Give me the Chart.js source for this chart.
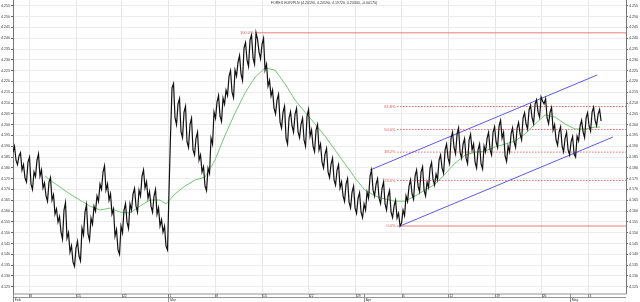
<!DOCTYPE html>
<html>
<head>
<meta charset="utf-8">
<script src="https://cdn.jsdelivr.net/npm/chart.js@4.4.1/dist/chart.umd.min.js"></script>
<style>
  body { margin: 0; background: #fff; }
  #wrap { width: 640px; height: 302px; }
</style>
</head>
<body>
<div id="wrap"><canvas id="chart" width="640" height="302"></canvas></div>
<script>
// chart data
const chartTitle = 'FOREX EUR/PLN (4.20190, 4.20590, 4.19720, 4.20340, -0.00170)';

// prices, two readings per bar (bar = i / 2)
const closes = [
  4.1873, 4.1900, 4.1836, 4.1815, 4.1855, 4.1870, 4.1790, 4.1815, 4.1753, 4.1735,
  4.1827, 4.1850, 4.1725, 4.1700, 4.1781, 4.1760, 4.1836, 4.1865, 4.1762, 4.1790,
  4.1707, 4.1730, 4.1670, 4.1645, 4.1734, 4.1755, 4.1651, 4.1675, 4.1586, 4.1610,
  4.1549, 4.1575, 4.1503, 4.1470, 4.1605, 4.1640, 4.1475, 4.1500, 4.1410, 4.1440,
  4.1364, 4.1345, 4.1429, 4.1460, 4.1392, 4.1370, 4.1521, 4.1490, 4.1595, 4.1630,
  4.1494, 4.1465, 4.1568, 4.1540, 4.1623, 4.1600, 4.1670, 4.1645, 4.1725, 4.1700,
  4.1781, 4.1810, 4.1697, 4.1725, 4.1651, 4.1680, 4.1586, 4.1610, 4.1484, 4.1515,
  4.1420, 4.1400, 4.1531, 4.1500, 4.1605, 4.1635, 4.1549, 4.1520, 4.1633, 4.1605,
  4.1679, 4.1705, 4.1623, 4.1595, 4.1697, 4.1670, 4.1762, 4.1790, 4.1707, 4.1735,
  4.1660, 4.1690, 4.1623, 4.1595, 4.1670, 4.1700, 4.1586, 4.1615, 4.1531, 4.1560,
  4.1503, 4.1530, 4.1438, 4.1420, 4.1697, 4.1950, 4.2170, 4.2190, 4.2031, 4.2000,
  4.2096, 4.2120, 4.1966, 4.1940, 4.2058, 4.2085, 4.1920, 4.1895, 4.2003, 4.2030,
  4.1883, 4.1860, 4.1938, 4.1965, 4.1836, 4.1860, 4.1781, 4.1805, 4.1716, 4.1695,
  4.1799, 4.1775, 4.1938, 4.1910, 4.2058, 4.2030, 4.2105, 4.2135, 4.2040, 4.2015,
  4.2123, 4.2095, 4.2160, 4.2135, 4.2225, 4.2250, 4.2151, 4.2125, 4.2253, 4.2225,
  4.2290, 4.2320, 4.2234, 4.2205, 4.2355, 4.2380, 4.2299, 4.2270, 4.2392, 4.2415,
  4.2308, 4.2280, 4.2425, 4.2395, 4.2336, 4.2305, 4.2373, 4.2400, 4.2253, 4.2280,
  4.2179, 4.2205, 4.2133, 4.2160, 4.2077, 4.2050, 4.2114, 4.2140, 4.2012, 4.1985,
  4.2058, 4.2085, 4.1938, 4.1910, 4.2031, 4.2060, 4.1994, 4.1965, 4.2049, 4.2075,
  4.1966, 4.1940, 4.2003, 4.2030, 4.1929, 4.1900, 4.2040, 4.2070, 4.1947, 4.1975,
  4.1901, 4.1875, 4.1975, 4.2000, 4.1883, 4.1910, 4.1827, 4.1800, 4.1864, 4.1890,
  4.1781, 4.1755, 4.1818, 4.1845, 4.1744, 4.1720, 4.1790, 4.1815, 4.1707, 4.1735,
  4.1670, 4.1645, 4.1725, 4.1750, 4.1642, 4.1615, 4.1688, 4.1715, 4.1614, 4.1590,
  4.1660, 4.1685, 4.1595, 4.1570, 4.1633, 4.1605, 4.1688, 4.1660, 4.1762, 4.1790,
  4.1697, 4.1670, 4.1725, 4.1750, 4.1660, 4.1635, 4.1707, 4.1735, 4.1633, 4.1605,
  4.1670, 4.1695, 4.1595, 4.1570, 4.1623, 4.1650, 4.1568, 4.1590, 4.1531, 4.1545,
  4.1605, 4.1580, 4.1670, 4.1645, 4.1716, 4.1745, 4.1679, 4.1655, 4.1762, 4.1790,
  4.1716, 4.1690, 4.1781, 4.1805, 4.1697, 4.1670, 4.1734, 4.1710, 4.1799, 4.1825,
  4.1744, 4.1720, 4.1771, 4.1745, 4.1836, 4.1860, 4.1799, 4.1775, 4.1883, 4.1910,
  4.1845, 4.1820, 4.1938, 4.1965, 4.1892, 4.1865, 4.1957, 4.1985, 4.1873, 4.1845,
  4.1910, 4.1935, 4.1845, 4.1820, 4.1929, 4.1955, 4.1883, 4.1910, 4.1827, 4.1800,
  4.1883, 4.1910, 4.1818, 4.1795, 4.1901, 4.1875, 4.1938, 4.1965, 4.1883, 4.1860,
  4.1966, 4.1990, 4.1920, 4.1895, 4.1994, 4.2020, 4.1938, 4.1965, 4.1855, 4.1830,
  4.1901, 4.1875, 4.1957, 4.1985, 4.1920, 4.1895, 4.1984, 4.2010, 4.1957, 4.1930,
  4.2031, 4.2055, 4.2003, 4.1980, 4.2068, 4.2090, 4.2031, 4.2005, 4.2096, 4.2115,
  4.2058, 4.2035, 4.2128, 4.2110, 4.2096, 4.2120, 4.2031, 4.2005, 4.2058, 4.2080,
  4.1975, 4.2000, 4.1929, 4.1905, 4.1966, 4.1990, 4.1901, 4.1875, 4.1938, 4.1965,
  4.1883, 4.1860, 4.1920, 4.1945, 4.1864, 4.1850, 4.1947, 4.1925, 4.1994, 4.2020,
  4.1966, 4.1940, 4.2031, 4.2055, 4.1994, 4.1970, 4.2058, 4.2080, 4.2021, 4.1995,
  4.2049, 4.2070, 4.2017
];

// moving average (green), read at bar positions
const maBars = [
  10.7, 12.3, 15.7, 19, 22.3, 25.7, 29, 32.3, 35.7, 39,
  42.3, 45.7, 49, 51, 54, 57.3, 60.7, 64, 67.3, 70.7,
  74, 77.3, 80.7, 84, 87.3, 90.7, 94, 97.3, 100.7, 104,
  107.3, 110.7, 114, 117.3, 120.7, 124, 127.3, 130.7, 134, 137.3,
  140.7, 144, 147.3, 150.7, 154, 157.3, 160.7, 164, 167.3, 170.7,
  174, 177.3, 180.7, 184, 187.3, 190.7, 194, 195.7
];
const maValues = [
  4.1762, 4.1744, 4.1711, 4.1679, 4.1651, 4.1623, 4.1605, 4.1614, 4.1595, 4.1591,
  4.1623, 4.1651, 4.1651, 4.1633, 4.1679, 4.1716, 4.1744, 4.1757, 4.1836, 4.1952,
  4.2054, 4.2146, 4.2220, 4.2262, 4.2253, 4.2188, 4.2114, 4.2058, 4.2003, 4.1947,
  4.1883, 4.1818, 4.1753, 4.1697, 4.1670, 4.1656, 4.1646, 4.1646, 4.1670, 4.1697,
  4.1725, 4.1771, 4.1822, 4.1859, 4.1873, 4.1878, 4.1897, 4.1910, 4.1924, 4.1957,
  4.2003, 4.2045, 4.2035, 4.2003, 4.1980, 4.1980, 4.1989, 4.1989
];

// trend channel (blue)
const upperBars = [119, 194.7];
const upperValues = [4.1790, 4.2230];
const lowerBars = [129, 200];
const lowerValues = [4.1531, 4.1943];

// fibonacci retracement (red)
const fibLabels = ['0.0%', '23.6%', '38.2%', '50.0%', '61.8%', '100.0%'];
const fibLevels = [4.1531, 4.1742, 4.1873, 4.1978, 4.2084, 4.2425];
const fibFrom = [128, 128, 128, 128, 128, 80.7];

// axes
const yTicks = [
  4.125, 4.130, 4.135, 4.140, 4.145, 4.150, 4.155, 4.160, 4.165, 4.170,
  4.175, 4.180, 4.185, 4.190, 4.195, 4.200, 4.205, 4.210, 4.215, 4.220,
  4.225, 4.230, 4.235, 4.240, 4.245, 4.250, 4.255
];
const dayTicks = [5.4, 21, 36.3, 51.8, 67.4, 83, 98.6, 114.3, 129.6, 145.1, 160.7, 176.2, 191.8];
const dayLabels = ['8', '15', '22', '1', '8', '15', '22', '29', '5', '12', '19', '26', '3'];
const monthTicks = [0.1, 51.8, 117.1, 185.7];
const monthLabels = ['Feb', 'Mar', 'Apr', 'May'];

const xMax = 204.3;
const yMin = 4.1221, yMax = 4.2577;
const FONT = '"Liberation Sans", Arial, sans-serif';

const pts = (xs, ys) => xs.map((x, i) => ({ x: x, y: ys[i] }));

const datasets = [
  { label: 'EUR/PLN', data: closes.map((v, i) => ({ x: i / 2, y: v })), borderColor: '#111', borderWidth: 1.2 },
  { label: 'MA', data: pts(maBars, maValues), borderColor: '#72c872', borderWidth: 1 },
  { label: 'upper', data: pts(upperBars, upperValues), borderColor: '#5a5ae6', borderWidth: 1 },
  { label: 'lower', data: pts(lowerBars, lowerValues), borderColor: '#5a5ae6', borderWidth: 1 }
];
fibLevels.forEach((lvl, i) => {
  const solid = i === 0 || i === fibLevels.length - 1;
  datasets.push({
    label: fibLabels[i],
    data: [{ x: fibFrom[i], y: lvl }, { x: xMax, y: lvl }],
    borderColor: solid ? '#ea7b7b' : '#e86a6a',
    borderWidth: 1,
    borderDash: solid ? [] : [1.5, 1.5]
  });
});

// title, fib labels and the date strip under the plot
const extras = {
  id: 'extras',
  afterDraw(chart) {
    const c = chart.ctx, a = chart.chartArea;
    const xs = chart.scales.x, ys = chart.scales.y;
    c.save();
    c.fillStyle = '#333';
    c.font = '3.6px ' + FONT;
    c.textAlign = 'center';
    c.textBaseline = 'middle';
    c.fillText(chartTitle, 324, 3);

    c.fillStyle = '#e05555';
    c.font = '4px ' + FONT;
    c.textAlign = 'right';
    fibLevels.forEach((lvl, i) => {
      c.fillText(fibLabels[i], xs.getPixelForValue(fibFrom[i]) - 1.5, ys.getPixelForValue(lvl));
    });

    const b = a.bottom;
    c.strokeStyle = '#777';
    c.lineWidth = 0.8;
    c.beginPath();
    c.moveTo(a.left, b + 1); c.lineTo(a.right, b + 1);
    c.moveTo(a.left, b + 4.5); c.lineTo(a.right, b + 4.5);
    dayTicks.forEach(p => {
      const x = Math.round(xs.getPixelForValue(p)) + 0.5;
      c.moveTo(x, b + 1); c.lineTo(x, b + 4.5);
    });
    monthTicks.forEach(p => {
      const x = Math.round(xs.getPixelForValue(p)) + 0.5;
      c.moveTo(x, b + 1); c.lineTo(x, chart.height);
    });
    c.stroke();

    c.fillStyle = '#333';
    c.font = '3.4px ' + FONT;
    c.textAlign = 'left';
    c.textBaseline = 'middle';
    dayTicks.forEach((p, i) => c.fillText(dayLabels[i], xs.getPixelForValue(p) + 1, b + 2.9));
    c.textBaseline = 'bottom';
    monthTicks.forEach((p, i) => c.fillText(monthLabels[i], xs.getPixelForValue(p) + 1.5, chart.height));
    c.restore();
  }
};

const yAxis = (pos, width, onArea) => ({
  type: 'linear',
  position: pos,
  min: yMin,
  max: yMax,
  afterBuildTicks: s => { s.ticks = yTicks.map(v => ({ value: v })); },
  afterFit: s => { s.width = width; s.paddingTop = 0; s.paddingBottom = 0; },
  ticks: {
    callback: v => v.toFixed(3),
    font: { size: 3.6, family: FONT },
    color: '#333',
    padding: 1,
    autoSkip: false
  },
  grid: { color: '#ececec', drawOnChartArea: onArea, tickLength: 2, tickColor: '#666' },
  border: { color: '#777' }
});

new Chart(document.getElementById('chart'), {
  type: 'line',
  data: { datasets: datasets },
  options: {
    responsive: false,
    animation: false,
    layout: { padding: { left: 0, right: 0, top: 0, bottom: 9 } },
    elements: { point: { radius: 0 }, line: { tension: 0 } },
    plugins: { legend: { display: false }, tooltip: { enabled: false } },
    scales: {
      x: {
        type: 'linear',
        min: 0,
        max: xMax,
        afterBuildTicks: s => { s.ticks = dayTicks.map(v => ({ value: v })); },
        afterFit: s => { s.height = 0; },
        ticks: { display: false },
        grid: { color: '#e6e6e6', drawTicks: false },
        border: { display: false }
      },
      y: yAxis('left', 13, true),
      y2: yAxis('right', 14, false)
    }
  },
  plugins: [extras]
});
</script>
</body>
</html>
